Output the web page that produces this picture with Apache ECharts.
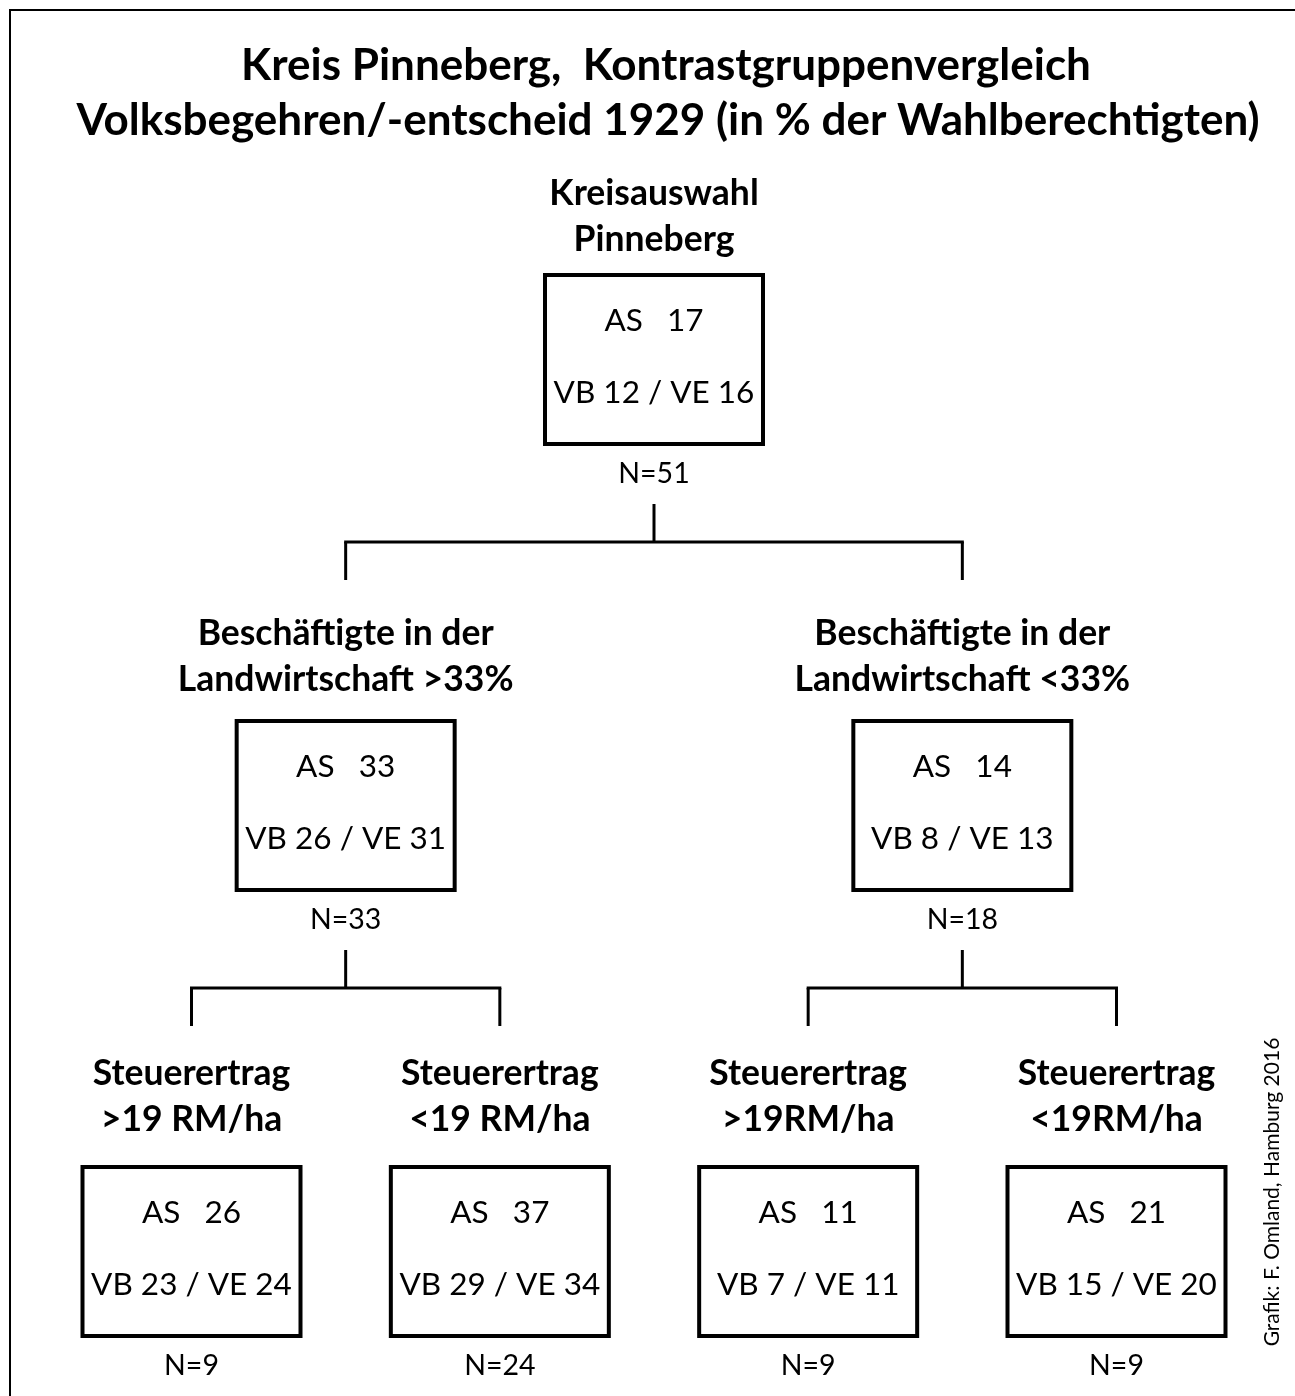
<!DOCTYPE html>
<html><head><meta charset="utf-8">
<script src="https://cdn.jsdelivr.net/npm/echarts@6/dist/echarts.min.js"></script>
<style>html,body{margin:0;padding:0;background:#fff}#c{width:1295px;height:1396px}</style>
</head><body><div id="c"></div>
<script>
// ---- data ----
const titleLines = ['Kreis Pinneberg,  Kontrastgruppenvergleich', 'Volksbegehren/-entscheid 1929 (in % der Wahlberechtigten)'];
const nodeNames = [
  'Kreisauswahl\nPinneberg',
  'Beschäftigte in der\nLandwirtschaft >33%',
  'Beschäftigte in der\nLandwirtschaft <33%',
  'Steuerertrag\n>19 RM/ha',
  'Steuerertrag\n<19 RM/ha',
  'Steuerertrag\n>19RM/ha',
  'Steuerertrag\n<19RM/ha'
];
const nodeParent = [-1, 0, 0, 1, 1, 2, 2];
const asValues = [17, 33, 14, 26, 37, 11, 21];
const vbValues = [12, 26, 8, 23, 29, 7, 15];
const veValues = [16, 31, 13, 24, 34, 11, 20];
const nValues  = [51, 33, 18, 9, 24, 9, 9];
const credit = 'Grafik: F. Omland, Hamburg 2016';

// ---- tree layout (leaf slots, parents centred over children) ----
const count = nodeNames.length;
const children = nodeNames.map((_, i) => nodeParent.map((p, j) => p === i ? j : -1).filter(j => j >= 0));
const depth = nodeParent.map((p) => { let d = 0, q = p; while (q >= 0) { d++; q = nodeParent[q]; } return d; });
const slot = new Array(count);
let leafCount = 0;
function place(i) {
  if (!children[i].length) { slot[i] = leafCount++; return; }
  children[i].forEach(place);
  slot[i] = children[i].reduce((s, k) => s + slot[k], 0) / children[i].length;
}
place(0);
const maxDepth = Math.max.apply(null, depth);

const nodeData = nodeNames.map((_, i) => [slot[i], depth[i], i]);
const linkData = nodeNames.map((_, i) => [slot[i], depth[i], i]).filter(d => children[d[2]].length);

const FONT = 'Lato';
const BOX_W = 218, BOX_H = 169;

function renderNode(params, api) {
  const i = api.value(2), d = api.value(1);
  const p = api.coord([api.value(0), d]);
  const x0 = p[0] - BOX_W / 2, y0 = p[1];
  const txt = (text, y, size, weight, extra) => ({
    type: 'text',
    style: Object.assign({ text, x: p[0], y, align: 'center', verticalAlign: 'middle',
      fontFamily: FONT, fontSize: size, fontWeight: weight, fill: '#000' }, extra || {})
  });
  return { type: 'group', children: [
    { type: 'rect', shape: { x: x0, y: y0, width: BOX_W, height: BOX_H },
      style: { fill: '#fff', stroke: '#000', lineWidth: 4 } },
    txt(nodeNames[i], y0 - (35 + 6 * d) + 23, 35.5, 'bold', { verticalAlign: 'bottom', lineHeight: 46 }),
    txt('AS   ' + asValues[i], y0 + 46, 31.5, 'normal'),
    txt('VB ' + vbValues[i] + ' / VE ' + veValues[i], y0 + 118, 31.5, 'normal'),
    txt('N=' + nValues[i], y0 + BOX_H + 30, 28.5, 'normal')
  ]};
}

function renderLink(params, api) {
  const i = api.value(2), d = api.value(1);
  const p = api.coord([api.value(0), d]);
  const cTop = api.coord([0, d + 1])[1];
  const bar = cTop - 179, dropEnd = cTop - 141, stemTop = bar - 38;
  const xs = children[i].map(k => api.coord([slot[k], d + 1])[0]);
  const st = { stroke: '#000', lineWidth: 3, fill: 'none' };
  const els = [
    { type: 'polyline', shape: { points: [[p[0], stemTop], [p[0], bar]] }, style: st },
    { type: 'polyline', shape: { points: [[Math.min.apply(null, xs) - 1.5, bar], [Math.max.apply(null, xs) + 1.5, bar]] }, style: st }
  ];
  xs.forEach(x => els.push({ type: 'polyline', shape: { points: [[x, bar], [x, dropEnd]] }, style: st }));
  return { type: 'group', children: els };
}

const chart = echarts.init(document.getElementById('c'), null, { renderer: 'canvas' });
chart.setOption({
  backgroundColor: '#fff',
  animation: false,
  grid: { left: 191.5, right: 178.5, top: 275, bottom: 229 },
  xAxis: { type: 'value', min: 0, max: leafCount - 1, show: false },
  yAxis: { type: 'value', min: 0, max: maxDepth, inverse: true, show: false },
  graphic: [
    { type: 'polyline', shape: { points: [[10, 1400], [10, 10], [1300, 10]] }, style: { stroke: '#000', lineWidth: 2, fill: 'none' } },
    { type: 'text', x: 666, y: 66, style: { text: titleLines[0], align: 'center', verticalAlign: 'middle', fontFamily: FONT, fontWeight: 'bold', fontSize: 44, fill: '#000' } },
    { type: 'text', x: 668, y: 121, style: { text: titleLines[1], align: 'center', verticalAlign: 'middle', fontFamily: FONT, fontWeight: 'bold', fontSize: 44, fill: '#000' } },
    { type: 'text', x: 1272, y: 1192, rotation: Math.PI / 2, style: { text: credit, align: 'center', verticalAlign: 'middle', fontFamily: FONT, fontSize: 21, fill: '#000' } }
  ],
  series: [
    { type: 'custom', coordinateSystem: 'cartesian2d', data: linkData, renderItem: renderLink, silent: true },
    { type: 'custom', coordinateSystem: 'cartesian2d', data: nodeData, renderItem: renderNode, silent: true }
  ]
});
</script>
</body></html>
